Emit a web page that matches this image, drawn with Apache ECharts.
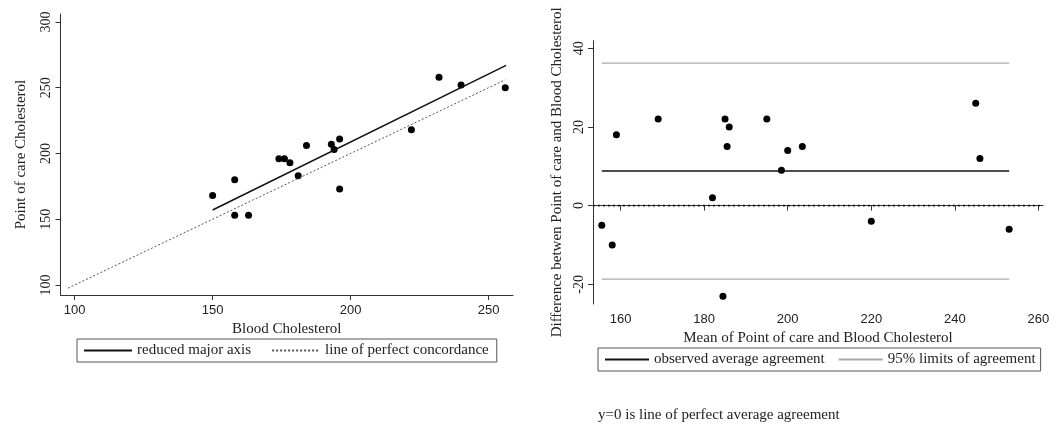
<!DOCTYPE html>
<html>
<head>
<meta charset="utf-8">
<script src="https://cdn.jsdelivr.net/npm/echarts@6/dist/echarts.min.js"></script>
<style>
html, body { margin: 0; padding: 0; background: #fff; }
#chart { width: 1061px; height: 424px; }
</style>
</head>
<body>
<div id="chart"></div>
<script>
// 左图: 血液胆固醇 vs 床旁胆固醇
var bloodChol = [150, 158, 158, 163, 174, 176, 178, 181, 184, 193, 194, 196, 196, 222, 232, 240, 256];
var pocChol   = [168, 180, 153, 153, 196, 196, 193, 183, 206, 207, 203, 211, 173, 218, 258, 252, 250];
var rmaX = [150, 256.3];
var rmaY = [157, 267];
var concX = [97.6, 256];
var concY = [97.6, 256];
var leftXTicks = [100, 150, 200, 250];
var leftYTicks = [100, 150, 200, 250, 300];

// 右图: Bland-Altman
var meanVals = [159, 169, 155.5, 158, 185, 186, 185.5, 182, 195, 200, 198.5, 203.5, 184.5, 220, 245, 246, 253];
var diffVals = [18, 22, -5, -10, 22, 20, 15, 2, 22, 14, 9, 15, -23, -4, 26, 12, -6];
var limitX = [155.5, 253];
var meanDiff = 8.8;
var upperLimit = 36.2;
var lowerLimit = -18.7;
var rightXTicks = [160, 180, 200, 220, 240, 260];
var rightYTicks = [-20, 0, 20, 40];

var serif = 'Liberation Serif';
var sans = 'Liberation Sans';

function pairs(xs, ys) {
	var out = [];
	for (var i = 0; i < xs.length; i++) out.push([xs[i], ys[i]]);
	return out;
}
function hline(xs, y) {
	return [[xs[0], y], [xs[1], y]];
}

var chart = echarts.init(document.getElementById('chart'), null, { renderer: 'canvas' });

var axisLine = { lineStyle: { color: '#333', width: 1 } };

chart.setOption({
	animation: false,
	backgroundColor: '#fff',
	title: {
		text: 'y=0 is line of perfect average agreement',
		left: 593, top: 403,
		textStyle: { fontFamily: serif, fontSize: 15, fontWeight: 'normal', color: '#222' }
	},
	grid: [
		{ left: 60.5, top: 14, width: 452.5, height: 281 },
		{ left: 593, top: 40.7, width: 450, height: 263.3 }
	],
	xAxis: [{
		gridIndex: 0, type: 'value', min: 94.9, max: 258.8,
		name: 'Blood Cholesterol', nameLocation: 'middle', nameGap: 25,
		nameTextStyle: { fontFamily: serif, fontSize: 15, color: '#222' },
		axisLine: axisLine,
		axisTick: { show: true, length: 5, lineStyle: { color: '#333' }, customValues: leftXTicks },
		axisLabel: { customValues: leftXTicks, fontFamily: sans, fontSize: 13, color: '#222', margin: 9 },
		splitLine: { show: false }
	}, {
		gridIndex: 1, type: 'value', min: 153.4, max: 261.1,
		name: 'Mean of Point of care and Blood Cholesterol', nameLocation: 'middle', nameGap: 25,
		nameTextStyle: { fontFamily: serif, fontSize: 15, color: '#222' },
		axisLine: axisLine,
		axisTick: { show: true, length: 5, lineStyle: { color: '#333' }, customValues: rightXTicks },
		axisLabel: { customValues: rightXTicks, fontFamily: sans, fontSize: 13, color: '#222', margin: 9 },
		splitLine: { show: false }
	}],
	yAxis: [{
		gridIndex: 0, type: 'value', min: 92.4, max: 306,
		name: 'Point of care Cholesterol', nameLocation: 'middle', nameGap: 32, nameRotate: 90,
		nameTextStyle: { fontFamily: serif, fontSize: 15, color: '#222' },
		axisLine: axisLine,
		axisTick: { show: true, length: 5, lineStyle: { color: '#333' }, customValues: leftYTicks },
		axisLabel: { customValues: leftYTicks, rotate: 90, fontFamily: serif, fontSize: 14, color: '#222', margin: 7 },
		splitLine: { show: false }
	}, {
		gridIndex: 1, type: 'value', min: -25, max: 41.9,
		name: 'Difference betwen Point of care and Blood Cholesterol', nameLocation: 'middle', nameGap: 28, nameRotate: 90,
		nameTextStyle: { fontFamily: serif, fontSize: 15, color: '#222' },
		axisLine: axisLine,
		axisTick: { show: true, length: 5, lineStyle: { color: '#333' }, customValues: rightYTicks },
		axisLabel: { customValues: rightYTicks, rotate: 90, fontFamily: serif, fontSize: 14, color: '#222', margin: 7 },
		splitLine: { show: false }
	}],
	legend: [{
		left: 77, top: 339,
		padding: [4, 8, 4, 6],
		borderColor: '#555', borderWidth: 1,
		itemWidth: 48, itemHeight: 12, itemGap: 20,
		itemStyle: { opacity: 0 },
		textStyle: { fontFamily: serif, fontSize: 15, color: '#222' },
		data: ['reduced major axis', 'line of perfect concordance']
	}, {
		left: 598, top: 348,
		padding: [4, 5, 4, 6],
		borderColor: '#555', borderWidth: 1,
		itemWidth: 44, itemHeight: 12, itemGap: 13,
		itemStyle: { opacity: 0 },
		textStyle: { fontFamily: serif, fontSize: 15, color: '#222' },
		data: ['observed average agreement', '95% limits of agreement']
	}],
	series: [{
		name: 'points', type: 'scatter', xAxisIndex: 0, yAxisIndex: 0,
		symbolSize: 7, itemStyle: { color: '#000', opacity: 1 },
		data: pairs(bloodChol, pocChol)
	}, {
		name: 'reduced major axis', type: 'line', xAxisIndex: 0, yAxisIndex: 0,
		symbol: 'none', itemStyle: { color: '#111' }, lineStyle: { color: '#111', width: 1.5 },
		data: pairs(rmaX, rmaY)
	}, {
		name: 'line of perfect concordance', type: 'line', xAxisIndex: 0, yAxisIndex: 0,
		symbol: 'none', itemStyle: { color: '#555' }, lineStyle: { color: '#555', width: 1, type: [2, 2] },
		data: pairs(concX, concY)
	}, {
		name: 'ba points', type: 'scatter', xAxisIndex: 1, yAxisIndex: 1,
		symbolSize: 7, itemStyle: { color: '#000', opacity: 1 },
		data: pairs(meanVals, diffVals)
	}, {
		name: 'observed average agreement', type: 'line', xAxisIndex: 1, yAxisIndex: 1,
		symbol: 'none', itemStyle: { color: '#111' }, lineStyle: { color: '#111', width: 1.5 },
		data: hline(limitX, meanDiff)
	}, {
		name: '95% limits of agreement', type: 'line', xAxisIndex: 1, yAxisIndex: 1,
		symbol: 'none', itemStyle: { color: '#aaa' }, lineStyle: { color: '#aaa', width: 1.2 },
		data: hline(limitX, upperLimit)
	}, {
		name: '95% limits of agreement', type: 'line', xAxisIndex: 1, yAxisIndex: 1,
		symbol: 'none', itemStyle: { color: '#aaa' }, lineStyle: { color: '#aaa', width: 1.2 },
		data: hline(limitX, lowerLimit)
	}, {
		name: 'zero line', type: 'line', xAxisIndex: 1, yAxisIndex: 1,
		symbol: 'none', lineStyle: { color: '#111', width: 1.8, type: [1.8, 3.2] },
		data: hline([153.4, 261.1], 0)
	}]
});
</script>
</body>
</html>
